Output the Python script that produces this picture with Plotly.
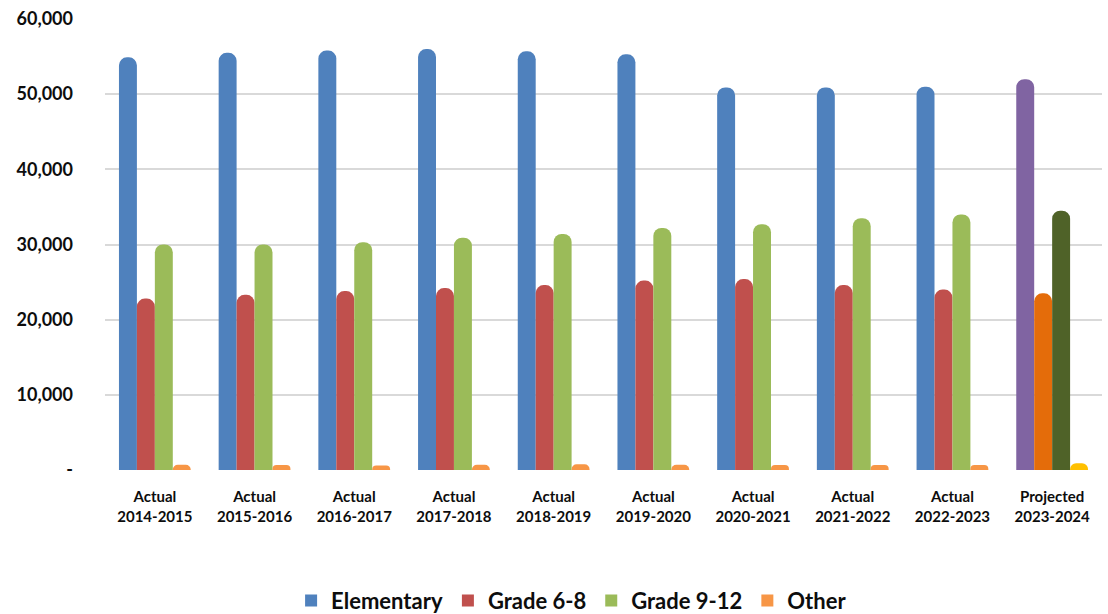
import plotly.graph_objects as go

categories = [
    "Actual<br>2014-2015", "Actual<br>2015-2016", "Actual<br>2016-2017",
    "Actual<br>2017-2018", "Actual<br>2018-2019", "Actual<br>2019-2020",
    "Actual<br>2020-2021", "Actual<br>2021-2022", "Actual<br>2022-2023",
    "Projected<br>2023-2024",
]

elementary = [54900, 55500, 55800, 56000, 55700, 55300, 50900, 50900, 51000, 52000]
grade_6_8 = [22800, 23300, 23800, 24200, 24600, 25200, 25400, 24600, 24000, 23500]
grade_9_12 = [30000, 30000, 30300, 30900, 31400, 32200, 32700, 33500, 34000, 34500]
other = [700, 650, 600, 700, 750, 700, 650, 650, 650, 900]

y_ticks = [0, 10000, 20000, 30000, 40000, 50000, 60000]
y_tick_text = ["-", "10,000", "20,000", "30,000", "40,000", "50,000", "60,000"]

# actual years use the base colour, the projected year gets its own shade
series = [
    ("Elementary", elementary, "#4F81BD", "#8064A2"),
    ("Grade 6-8", grade_6_8, "#C0504D", "#E46C0A"),
    ("Grade 9-12", grade_9_12, "#9BBB59", "#4F6228"),
    ("Other", other, "#F79646", "#FFC000"),
]

FONT = "Lato, 'Open Sans', sans-serif"

fig = go.Figure()
for name, values, base, projected in series:
    colors = [base] * (len(values) - 1) + [projected]
    fig.add_trace(
        go.Bar(
            x=categories,
            y=values,
            name=name,
            showlegend=False,
            marker=dict(color=colors, cornerradius="50%", line=dict(width=0)),
            hovertemplate="%{x}<br>" + name + ": %{y:,}<extra></extra>",
        )
    )

# square legend keys like the original
for name, values, base, projected in series:
    fig.add_trace(
        go.Scatter(
            x=[None],
            y=[None],
            mode="markers",
            name=name,
            marker=dict(symbol="square", size=12, color=base),
        )
    )

fig.update_layout(
    width=1108,
    height=614,
    barmode="group",
    bargap=0.28,
    bargroupgap=0,
    paper_bgcolor="#FFFFFF",
    plot_bgcolor="#FFFFFF",
    font=dict(family=FONT, color="#0D0D0D", size=16, weight="bold"),
    margin=dict(l=105, r=6, t=19, b=144, autoexpand=False),
    showlegend=True,
    legend=dict(
        orientation="h",
        x=0.468,
        xanchor="center",
        y=-0.29,
        yanchor="middle",
        font=dict(size=22, weight="bold"),
        itemwidth=30,
        tracegroupgap=0,
        traceorder="normal",
    ),
)

fig.update_xaxes(
    showgrid=False,
    showline=False,
    zeroline=False,
    ticks="",
    tickfont=dict(size=15, weight="bold"),
    ticklabelstandoff=16,
)

fig.update_yaxes(
    range=[0, 60000],
    tickvals=y_ticks,
    ticktext=y_tick_text,
    showgrid=True,
    gridcolor="#D9D9D9",
    gridwidth=2,
    zeroline=False,
    showline=False,
    ticks="",
    tickfont=dict(size=18, weight="bold"),
    ticklabelstandoff=31,
)

# drop the default body margin so the figure sits at the window corner
fig.write_html(
    "out.html",
    config={"displayModeBar": False},
    post_script="document.body.style.margin='0';",
)
